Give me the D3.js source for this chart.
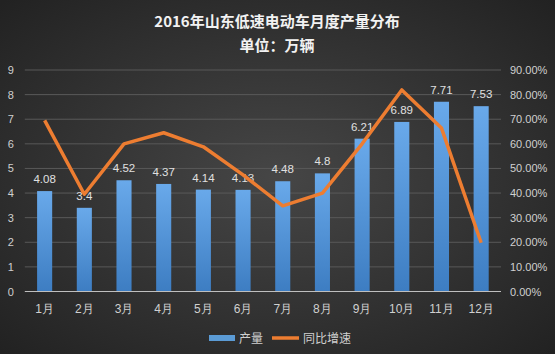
<!DOCTYPE html>
<html>
<head>
<meta charset="utf-8">
<script src="https://d3js.org/d3.v7.min.js"></script>
<style>
  body { margin: 0; background: #2a2a2a; }
  svg { display: block; font-family: "Noto Sans CJK SC", "DejaVu Sans", sans-serif; }
</style>
</head>
<body>
<svg></svg>
<script>
//data
var months = ["1月","2月","3月","4月","5月","6月","7月","8月","9月","10月","11月","12月"];
var output = [4.08, 3.4, 4.52, 4.37, 4.14, 4.13, 4.48, 4.8, 6.21, 6.89, 7.71, 7.53];
var growth = [0.695, 0.395, 0.60, 0.645, 0.588, 0.474, 0.348, 0.40, 0.60, 0.819, 0.664, 0.198];
var leftTicks = [0,1,2,3,4,5,6,7,8,9];
var rightTicks = [0,0.1,0.2,0.3,0.4,0.5,0.6,0.7,0.8,0.9];

//layout conf.
var svgWidth = 555,
    svgHeight = 354,
    plot = {left: 24.8, right: 501, top: 70, bottom: 291.5};

var svg = d3.select("svg")
  .attr("width", svgWidth)
  .attr("height", svgHeight);

var defs = svg.append("defs");
var bg = defs.append("radialGradient").attr("id", "bg")
  .attr("cx", "50%").attr("cy", "50%").attr("r", "70%");
bg.append("stop").attr("offset", "0%").attr("stop-color", "#464646");
bg.append("stop").attr("offset", "100%").attr("stop-color", "#222222");

var barGrad = defs.append("linearGradient").attr("id", "bar")
  .attr("x1", 0).attr("y1", 0).attr("x2", 0).attr("y2", 1);
barGrad.append("stop").attr("offset", "0%").attr("stop-color", "#69a9ea");
barGrad.append("stop").attr("offset", "100%").attr("stop-color", "#3d7dc2");

svg.append("rect")
  .attr("width", svgWidth).attr("height", svgHeight)
  .attr("fill", "url(#bg)");

//scales
var x = d3.scaleBand()
  .domain(months)
  .range([plot.left, plot.right])
  .paddingInner(0.62)
  .paddingOuter(0.31);

var y = d3.scaleLinear().domain([0, 9]).range([plot.bottom, plot.top]);
var y2 = d3.scaleLinear().domain([0, 0.9]).range([plot.bottom, plot.top]);

//grid
svg.append("g").selectAll("line")
  .data(leftTicks.slice(1))
  .enter().append("line")
  .attr("x1", plot.left).attr("x2", plot.right)
  .attr("y1", function(d){ return y(d); })
  .attr("y2", function(d){ return y(d); })
  .attr("stroke", "#595959").attr("stroke-width", 1);

//left axis
var leftAxis = svg.append("g")
  .attr("transform", "translate(" + (plot.left - 8) + ",0)")
  .call(d3.axisLeft(y).tickValues(leftTicks).tickSize(0).tickPadding(0));
leftAxis.select(".domain").remove();
leftAxis.selectAll("text")
  .attr("text-anchor", "middle").attr("dx", -6)
  .attr("fill", "#d0d0d0").style("font-size", "11px").style("font-family", "Liberation Sans, Arial, sans-serif");

//right axis
var rightAxis = svg.append("g")
  .attr("transform", "translate(" + (plot.right + 9) + ",0)")
  .call(d3.axisRight(y2).tickValues(rightTicks).tickSize(0).tickPadding(0)
    .tickFormat(function(d){ return (d*100).toFixed(2) + "%"; }));
rightAxis.select(".domain").remove();
rightAxis.selectAll("text")
  .attr("fill", "#d0d0d0").style("font-size", "11px").style("font-family", "Liberation Sans, Arial, sans-serif");

//bars
svg.append("g").selectAll("rect")
  .data(output)
  .enter().append("rect")
  .attr("x", function(d, i){ return x(months[i]); })
  .attr("width", x.bandwidth())
  .attr("y", function(d){ return y(d); })
  .attr("height", function(d){ return y(0) - y(d); })
  .attr("fill", "url(#bar)");

//x axis line
svg.append("line")
  .attr("x1", plot.left).attr("x2", plot.right)
  .attr("y1", plot.bottom).attr("y2", plot.bottom)
  .attr("stroke", "#bfbfbf").attr("stroke-width", 1);

var xAxis = svg.append("g")
  .attr("transform", "translate(0," + plot.bottom + ")")
  .call(d3.axisBottom(x).tickSize(0).tickPadding(13));
xAxis.select(".domain").remove();
xAxis.selectAll("text")
  .attr("fill", "#d0d0d0").style("font-size", "12px");

//bar labels
svg.append("g").selectAll("text")
  .data(output)
  .enter().append("text")
  .attr("x", function(d, i){ return x(months[i]) + x.bandwidth()/2; })
  .attr("y", function(d){ return y(d) - 8; })
  .attr("text-anchor", "middle")
  .attr("fill", "#e0e0e0")
  .style("font-size", "11.5px")
  .style("font-family", "Liberation Sans, Arial, sans-serif")
  .text(function(d){ return d; });

//line
var line = d3.line()
  .x(function(d, i){ return x(months[i]) + x.bandwidth()/2; })
  .y(function(d){ return y2(d); });

svg.append("path")
  .datum(growth)
  .attr("d", line)
  .attr("fill", "none")
  .attr("stroke", "#ed7d31")
  .attr("stroke-width", 3.5)
  .attr("stroke-linejoin", "round");

//title
svg.append("text")
  .attr("x", 277).attr("y", 27)
  .attr("text-anchor", "middle")
  .attr("fill", "#f2f2f2")
  .style("font-size", "15px").style("font-weight", "bold")
  .text("2016年山东低速电动车月度产量分布");
svg.append("text")
  .attr("x", 277).attr("y", 51)
  .attr("text-anchor", "middle")
  .attr("fill", "#f2f2f2")
  .style("font-size", "15px").style("font-weight", "bold")
  .text("单位：万辆");

//legend
var legend = svg.append("g").attr("transform", "translate(0,338)");
legend.append("rect")
  .attr("x", 209).attr("y", -3).attr("width", 26).attr("height", 6)
  .attr("fill", "#5b9bd5");
legend.append("text")
  .attr("x", 239).attr("y", 4.5)
  .attr("fill", "#d0d0d0").style("font-size", "12px")
  .text("产量");
legend.append("line")
  .attr("x1", 272).attr("x2", 299).attr("y1", 0).attr("y2", 0)
  .attr("stroke", "#ed7d31").attr("stroke-width", 3.5);
legend.append("text")
  .attr("x", 303).attr("y", 4.5)
  .attr("fill", "#d0d0d0").style("font-size", "12px")
  .text("同比增速");
</script>
</body>
</html>
